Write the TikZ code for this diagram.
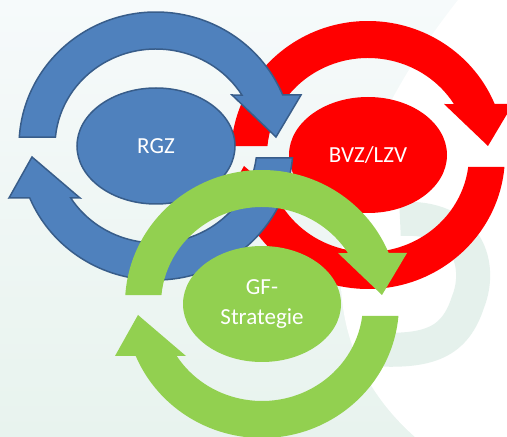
\documentclass[tikz,border=0pt]{standalone}
\usepackage{fontspec}
\setmainfont{Carlito}
\usetikzlibrary{shapes.geometric}

\definecolor{rgzblue}{HTML}{4F81BD}
\definecolor{rgzline}{HTML}{385D8A}
\definecolor{bvzred}{HTML}{FF0000}
\definecolor{gfgreen}{HTML}{92D050}
\definecolor{bgtop}{HTML}{F6FAFB}
\definecolor{bgbottom}{HTML}{E8F3EE}
\definecolor{logopale}{HTML}{E5F1EC}

% two curved arrows round a centre: #1 centre, #2 style
\newcommand{\cyclearrows}[2]{%
  \path[#2, shift={(#1)}] (176.2:137 and 134)
    arc[start angle=176.2, end angle=22.4, x radius=137, y radius=134]
    -- (145,51) -- (120,9) -- (76,51) -- (31.7:101 and 97)
    arc[start angle=31.7, end angle=174.7, x radius=101, y radius=97] -- cycle;
  \path[#2, shift={(#1)}] (-5.1:137 and 134)
    arc[start angle=-5.1, end angle=-157.2, x radius=137, y radius=134]
    -- (-147,-52) -- (-124,-11) -- (-76,-52) -- (-147.6:101 and 97)
    arc[start angle=-147.6, end angle=-7.1, x radius=101, y radius=97] -- cycle;
}

\tikzset{
  phase/.style={ellipse, minimum width=158pt, minimum height=116pt, inner sep=0pt,
    text=white, align=center, font=\fontsize{23}{30}\selectfont},
  bluering/.style={fill=rgzblue, draw=rgzline, line width=1.5pt, line join=miter},
  redring/.style={fill=bvzred},
  greenring/.style={fill=gfgreen}
}

\begin{document}
\begin{tikzpicture}[x=1pt, y=1pt]
    \useasboundingbox (0,0) rectangle (507,437);

    % background
    \fill[top color=bgtop, bottom color=bgbottom] (0,0) rectangle (507,437);
    \fill[white] (458,437) .. controls (350,300) and (280,120) .. (415,0)
        -- (507,0) -- (507,437) -- cycle;
    \draw[logopale, line width=34pt] (400,218) .. controls (470,222) and (482,170) .. (468,135)
        .. controls (455,95) and (430,84) .. (370,88);

    \coordinate (c-bvz) at (368,282);
    \coordinate (c-rgz) at (156,291);
    \coordinate (c-gf) at (262,133);

    % BVZ/LZV
    \cyclearrows{c-bvz}{redring}
    \node (bvz) [phase, fill=bvzred] at (c-bvz) {BVZ/LZV};

    % RGZ
    \cyclearrows{c-rgz}{bluering}
    \node (rgz) [phase, fill=rgzblue, draw=rgzline, line width=1.5pt] at (c-rgz) {RGZ};

    % GF-Strategie
    \cyclearrows{c-gf}{greenring}
    \node (gf) [phase, fill=gfgreen] at (c-gf) {GF-\\Strategie};
\end{tikzpicture}
\end{document}
